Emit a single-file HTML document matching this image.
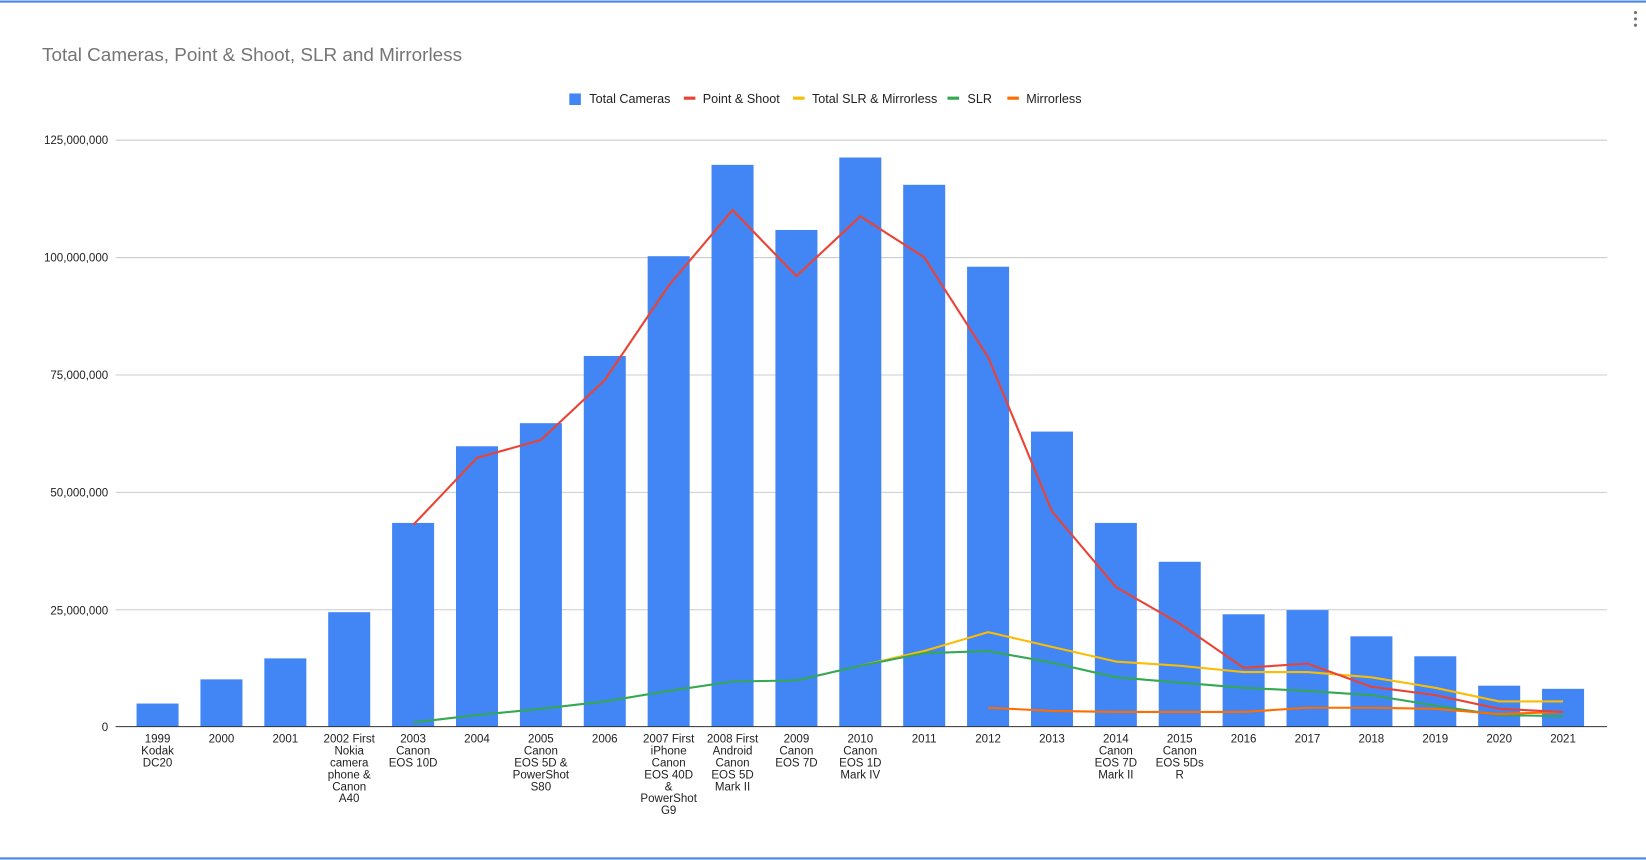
<!DOCTYPE html>
<html><head><meta charset="utf-8"><style>html,body{margin:0;padding:0;background:#fff}svg{display:block}</style></head>
<body>
<svg width="1646" height="860" viewBox="0 0 1567 819" preserveAspectRatio="none" xmlns="http://www.w3.org/2000/svg" font-family="Liberation Sans, Arial, sans-serif">
<rect x="0" y="0" width="1567" height="819" fill="#fff"/>
<line x1="0" y1="1.5" x2="1567" y2="1.5" stroke="#4a86e8" stroke-width="2"/>
<line x1="0" y1="817.5" x2="1567" y2="817.5" stroke="#4a86e8" stroke-width="2"/>
<text x="40" y="58" font-size="18" fill="#757575">Total Cameras, Point &amp; Shoot, SLR and Mirrorless</text>
<g fill="#757575"><circle cx="1557" cy="12" r="1.5"/><circle cx="1557" cy="18" r="1.5"/><circle cx="1557" cy="24" r="1.5"/></g>
<g font-size="12" fill="#222">
<rect x="542" y="89" width="11" height="11" fill="#4285f4"/><text x="561" y="98">Total Cameras</text>
<rect x="651" y="92" width="11" height="3" fill="#ea4335"/><text x="669" y="98">Point &amp; Shoot</text>
<rect x="755" y="92" width="11" height="3" fill="#fbbc04"/><text x="773" y="98">Total SLR &amp; Mirrorless</text>
<rect x="902" y="92" width="11" height="3" fill="#34a853"/><text x="921" y="98">SLR</text>
<rect x="959" y="92" width="11" height="3" fill="#ff6d01"/><text x="977" y="98">Mirrorless</text>
</g>
<g stroke="#ccc" stroke-width="1">
<line x1="110" y1="133.5" x2="1530" y2="133.5"/><line x1="110" y1="245.3" x2="1530" y2="245.3"/><line x1="110" y1="357.1" x2="1530" y2="357.1"/><line x1="110" y1="468.9" x2="1530" y2="468.9"/><line x1="110" y1="580.7" x2="1530" y2="580.7"/>
</g>
<g font-size="11" fill="#222" text-anchor="end">
<text x="103" y="137">125,000,000</text><text x="103" y="249">100,000,000</text><text x="103" y="361">75,000,000</text><text x="103" y="473">50,000,000</text><text x="103" y="585">25,000,000</text><text x="103" y="696">0</text>
</g>
<g fill="#4285f4">
<rect x="130" y="670" width="40" height="22"/>
<rect x="190.82" y="647" width="40" height="45"/>
<rect x="251.64" y="627" width="40" height="65"/>
<rect x="312.46" y="583" width="40" height="109"/>
<rect x="373.28" y="498" width="40" height="194"/>
<rect x="434.1" y="425" width="40" height="267"/>
<rect x="494.92" y="403" width="40" height="289"/>
<rect x="555.74" y="339" width="40" height="353"/>
<rect x="616.56" y="244" width="40" height="448"/>
<rect x="677.38" y="157" width="40" height="535"/>
<rect x="738.2" y="219" width="40" height="473"/>
<rect x="799.02" y="150" width="40" height="542"/>
<rect x="859.84" y="176" width="40" height="516"/>
<rect x="920.66" y="254" width="40" height="438"/>
<rect x="981.48" y="411" width="40" height="281"/>
<rect x="1042.3" y="498" width="40" height="194"/>
<rect x="1103.12" y="535" width="40" height="157"/>
<rect x="1163.94" y="585" width="40" height="107"/>
<rect x="1224.76" y="581" width="40" height="111"/>
<rect x="1285.58" y="606" width="40" height="86"/>
<rect x="1346.4" y="625" width="40" height="67"/>
<rect x="1407.22" y="653" width="40" height="39"/>
<rect x="1468.04" y="656" width="40" height="36"/>
</g>
<line x1="110" y1="692" x2="1530" y2="692" stroke="#333" stroke-width="1"/>
<g fill="none" stroke-width="2" stroke-linejoin="round">
<polyline stroke="#fbbc04" points="819.02,634 879.84,620 940.66,602 1001.48,616 1062.3,630 1123.12,634 1183.94,640 1244.76,640 1305.58,645 1366.4,655 1427.22,668 1488.04,668"/>
<polyline stroke="#34a853" points="393.28,688 454.1,681 514.92,675 575.74,668 636.56,658 697.38,649 758.2,648 819.02,634 879.84,622 940.66,620 1001.48,631 1062.3,645 1123.12,650 1183.94,655 1244.76,658 1305.58,662 1366.4,672 1427.22,681 1488.04,682"/>
<polyline stroke="#ff6d01" points="940.66,674 1001.48,677 1062.3,678 1123.12,678 1183.94,678 1244.76,674 1305.58,674 1366.4,675 1427.22,680 1488.04,678"/>
<polyline stroke="#ea4335" points="393.28,500 454.1,436 514.92,419 575.74,362 636.56,272 697.38,200 758.2,263 819.02,206 879.84,245 940.66,340 1001.48,487 1062.3,559 1123.12,594 1183.94,636 1244.76,632 1305.58,654 1366.4,662 1427.22,675 1488.04,678"/>
</g>
<g font-size="11" fill="#222" text-anchor="middle">
<text x="150" y="707">1999</text><text x="150" y="718.4">Kodak</text><text x="150" y="729.8">DC20</text>
<text x="210.82" y="707">2000</text>
<text x="271.64" y="707">2001</text>
<text x="332.46" y="707">2002 First</text><text x="332.46" y="718.4">Nokia</text><text x="332.46" y="729.8">camera</text><text x="332.46" y="741.2">phone &amp;</text><text x="332.46" y="752.6">Canon</text><text x="332.46" y="764">A40</text>
<text x="393.28" y="707">2003</text><text x="393.28" y="718.4">Canon</text><text x="393.28" y="729.8">EOS 10D</text>
<text x="454.1" y="707">2004</text>
<text x="514.92" y="707">2005</text><text x="514.92" y="718.4">Canon</text><text x="514.92" y="729.8">EOS 5D &amp;</text><text x="514.92" y="741.2">PowerShot</text><text x="514.92" y="752.6">S80</text>
<text x="575.74" y="707">2006</text>
<text x="636.56" y="707">2007 First</text><text x="636.56" y="718.4">iPhone</text><text x="636.56" y="729.8">Canon</text><text x="636.56" y="741.2">EOS 40D</text><text x="636.56" y="752.6">&amp;</text><text x="636.56" y="764">PowerShot</text><text x="636.56" y="775.4">G9</text>
<text x="697.38" y="707">2008 First</text><text x="697.38" y="718.4">Android</text><text x="697.38" y="729.8">Canon</text><text x="697.38" y="741.2">EOS 5D</text><text x="697.38" y="752.6">Mark II</text>
<text x="758.2" y="707">2009</text><text x="758.2" y="718.4">Canon</text><text x="758.2" y="729.8">EOS 7D</text>
<text x="819.02" y="707">2010</text><text x="819.02" y="718.4">Canon</text><text x="819.02" y="729.8">EOS 1D</text><text x="819.02" y="741.2">Mark IV</text>
<text x="879.84" y="707">2011</text>
<text x="940.66" y="707">2012</text>
<text x="1001.48" y="707">2013</text>
<text x="1062.3" y="707">2014</text><text x="1062.3" y="718.4">Canon</text><text x="1062.3" y="729.8">EOS 7D</text><text x="1062.3" y="741.2">Mark II</text>
<text x="1123.12" y="707">2015</text><text x="1123.12" y="718.4">Canon</text><text x="1123.12" y="729.8">EOS 5Ds</text><text x="1123.12" y="741.2">R</text>
<text x="1183.94" y="707">2016</text>
<text x="1244.76" y="707">2017</text>
<text x="1305.58" y="707">2018</text>
<text x="1366.4" y="707">2019</text>
<text x="1427.22" y="707">2020</text>
<text x="1488.04" y="707">2021</text>
</g>
</svg>
</body></html>
